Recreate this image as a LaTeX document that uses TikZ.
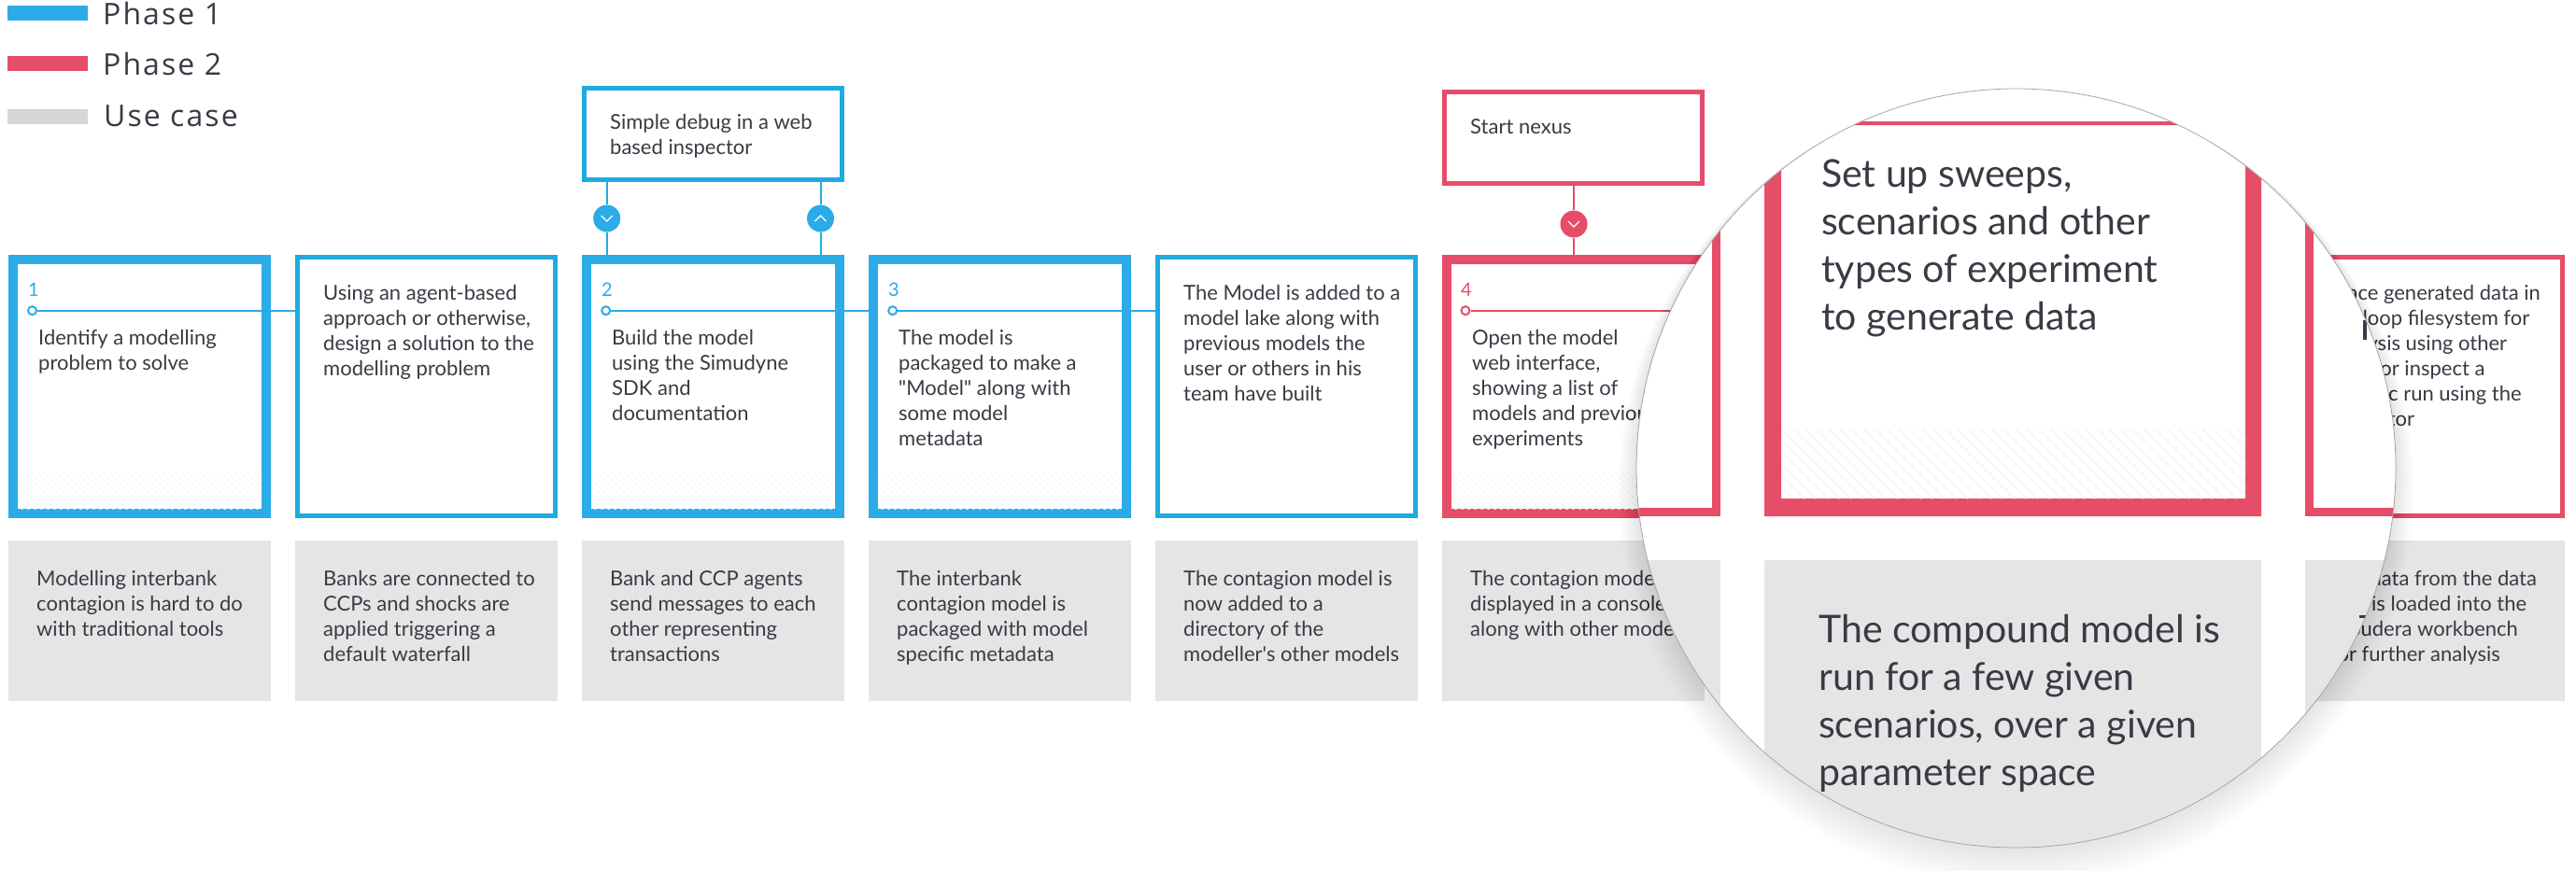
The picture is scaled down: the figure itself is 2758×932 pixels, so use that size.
\documentclass[tikz,border=0pt]{standalone}
\usepackage{fontspec}
\newfontfamily\latoplain{Lato}
\newfontfamily\legendfont[LetterSpace=6.5]{Open Sans}
\definecolor{cyanA}{HTML}{2BACE8}
\definecolor{cyanB}{HTML}{1FABE0}
\definecolor{redA}{HTML}{E64D68}
\definecolor{greyA}{HTML}{E5E5E6}
\definecolor{greyL}{HTML}{D6D6D7}
\definecolor{inkA}{HTML}{3A3A45}
\definecolor{hatchA}{HTML}{F7F7F7}
\newcommand{\lineone}{\rule{0pt}{20pt}}
\newcommand{\linebig}{\rule{0pt}{38pt}}
\newcommand{\hatchband}[4]{%
  \begin{scope}
    \clip (#1,#2) rectangle (#3,#4);
    \foreach \k in {-42,-35,...,266}{\draw[hatchA,line width=1.3pt] (#1+\k,#2) -- ++(42,42);}
  \end{scope}}
\tikzset{
  x=1pt,y=-1pt,
  thickbox/.style={draw=#1,line width=10pt,fill=white,minimum width=271pt,minimum height=272pt,anchor=north west},
  thinbox/.style={draw=#1,line width=5pt,fill=white,minimum width=276pt,minimum height=277pt,anchor=north west},
  topbox/.style={draw=#1,line width=5pt,fill=white,minimum width=276pt,minimum height=98pt,anchor=north west},
  greybox/.style={fill=greyA,minimum width=281pt,minimum height=172pt,anchor=north west,inner sep=0pt},
  txt/.style={font=\latoplain\fontsize{22}{27}\selectfont,text=inkA,align=left,anchor=north west,inner sep=0pt},
  bigtxt/.style={font=\latoplain\fontsize{41}{51}\selectfont,text=inkA,align=left,anchor=north west,inner sep=0pt},
  legtxt/.style={font=\legendfont\fontsize{32}{36}\selectfont,text=inkA,anchor=base west,inner sep=0pt},
  numtxt/.style={font=\latoplain\fontsize{20}{24}\selectfont,text=#1,anchor=base west,inner sep=0pt},
  legbar/.style={fill=#1,minimum width=86pt,minimum height=16pt,anchor=north west,inner sep=0pt},
  hub/.style={circle,draw=#1,line width=2pt,fill=white,minimum size=9pt,inner sep=0pt},
  knob/.style={circle,fill=#1,minimum size=29pt,inner sep=0pt},
  conn/.style={draw=#1,line width=2pt},
  chev/.style={draw=white,line width=1.3pt}
}
\begin{document}
\begin{tikzpicture}
\useasboundingbox (0,0) rectangle (2758,932);
\fill[white] (0,0) rectangle (2758,932);
% legend
\node[legbar=cyanA] (lg1) at (8,6) {};
\node[legbar=redA] (lg2) at (8,60) {};
\node[legbar=greyL] (lg3) at (8,117) {};
\node[legtxt] (lt1) at (110,26) {Phase 1};
\node[legtxt] (lt2) at (110,80) {Phase 2};
\node[legtxt] (lt3) at (111,135) {Use case};
% top boxes
\node[topbox=cyanB] (topa) at (623,92) {};
\node[topbox=redA] (topb) at (1544,96) {};
\node[txt] (topat) at (653,118) {\lineone Simple debug in a web\\based inspector};
\node[txt] (topbt) at (1574,123) {\lineone Start nexus};
% step boxes
\node[thickbox=cyanA] (s1) at (9,273) {};
\node[thinbox=cyanB] (s2) at (316,273) {};
\node[thickbox=cyanA] (s3) at (623,273) {};
\node[thickbox=cyanA] (s4) at (930,273) {};
\node[thinbox=cyanB] (s5) at (1237,273) {};
\node[thickbox=redA] (s6) at (1544,273) {};
\node[thinbox=redA] (s8) at (2465,273) {};
\hatchband{19}{506}{280}{545}
\hatchband{633}{506}{894}{545}
\hatchband{940}{506}{1201}{545}
\hatchband{1554}{506}{1815}{545}
% step numbers
\node[numtxt=cyanA] (n1) at (30,317) {1};
\node[numtxt=cyanA] (n2) at (644,317) {2};
\node[numtxt=cyanA] (n3) at (951,317) {3};
\node[numtxt=redA] (n4) at (1564,317) {4};
% horizontal connectors
\node[hub=cyanA] (h1) at (34.5,332.7) {};
\node[hub=cyanA] (h3) at (648.7,332.7) {};
\node[hub=cyanA] (h4) at (955.7,332.7) {};
\node[hub=redA] (h6) at (1569,332.7) {};
\draw[conn=cyanA] (h1.east) -- (h1.east -| s2.west);
\draw[conn=cyanA] (h3.east) -- (h3.east -| s4.west);
\draw[conn=cyanA] (h4.east) -- (h4.east -| s5.west);
\coordinate (h6end) at (1830,332.7);
\draw[conn=redA] (h6.east) -- (h6end);
% step text
\node[txt] (t1) at (41,349) {\lineone Identify a modelling\\problem to solve};
\node[txt] (t2) at (346,301) {\lineone Using an agent-based\\approach or otherwise,\\design a solution to the\\modelling problem};
\node[txt] (t3) at (655,349) {\lineone Build the model\\using the Simudyne\\SDK and\\documentation};
\node[txt] (t4) at (962,349) {\lineone The model is\\packaged to make a\\"Model" along with\\some model\\metadata};
\node[txt] (t5) at (1267,301) {\lineone The Model is added to a\\model lake along with\\previous models the\\user or others in his\\team have built};
\node[txt] (t6) at (1576,349) {\lineone Open the model\\web interface,\\showing a list of\\models and previous\\experiments};
\node[txt] (t8) at (2495,301) {\lineone Place generated data in\\Hadoop filesystem for\\analysis using other\\tools or inspect a\\specific run using the\\inspector};
% use cases
\node[greybox] (g1) at (9,579) {};
\node[greybox] (g2) at (316,579) {};
\node[greybox] (g3) at (623,579) {};
\node[greybox] (g4) at (930,579) {};
\node[greybox] (g5) at (1237,579) {};
\node[greybox] (g6) at (1544,579) {};
\node[greybox] (g8) at (2465,579) {};
\node[txt] (u1) at (39,607) {\lineone Modelling interbank\\contagion is hard to do\\with traditional tools};
\node[txt] (u2) at (346,607) {\lineone Banks are connected to\\CCPs and shocks are\\applied triggering a\\default waterfall};
\node[txt] (u3) at (653,607) {\lineone Bank and CCP agents\\send messages to each\\other representing\\transactions};
\node[txt] (u4) at (960,607) {\lineone The interbank\\contagion model is\\packaged with model\\specific metadata};
\node[txt] (u5) at (1267,607) {\lineone The contagion model is\\now added to a\\directory of the\\modeller's other models};
\node[txt] (u6) at (1574,607) {\lineone The contagion model is\\displayed in a console\\along with other models};
\node[txt] (u8) at (2495,607) {\lineone The data from the data\\lake is loaded into the\\Cloudera workbench\\for further analysis};
% knobs
\node[knob=cyanA] (k1) at (649.7,234) {};
\node[knob=cyanA] (k2) at (878.5,234) {};
\node[knob=redA] (k3) at (1685,240) {};
\draw[conn=cyanB] (k1.north |- topa.south) -- (k1.north);
\draw[conn=cyanB] (k1.south) -- (k1.south |- s3.north);
\draw[conn=cyanB] (k2.north |- topa.south) -- (k2.north);
\draw[conn=cyanB] (k2.south) -- (k2.south |- s3.north);
\draw[conn=redA] (k3.north |- topb.south) -- (k3.north);
\draw[conn=redA] (k3.south) -- (k3.south |- s6.north);
\draw[chev] ([shift={(-6,-3)}]k1.center) -- ([shift={(0,3)}]k1.center) -- ([shift={(6,-3)}]k1.center);
\draw[chev] ([shift={(-6,3)}]k2.center) -- ([shift={(0,-3)}]k2.center) -- ([shift={(6,3)}]k2.center);
\draw[chev] ([shift={(-6,-3)}]k3.center) -- ([shift={(0,3)}]k3.center) -- ([shift={(6,-3)}]k3.center);
% lens shadow
\foreach \k in {1,2,...,26}{\fill[black,opacity=0.0035] (2158.5,501.5+0.85*\k) circle[radius=406.5+0.75*\k];}
% lens
\node[circle,fill=white,minimum size=813pt,inner sep=0pt] (lens) at (2158.5,501.5) {};
\begin{scope}
  \clip (2158.5,501.5) circle[radius=406.5];
  \fill[redA] (1740,100) rectangle (1842,553);
  \fill[white] (1740,100) rectangle (1833,544);
  \fill[greyA] (1740,600) rectangle (1842,932);
  \fill[redA,even odd rule] (1889,130) rectangle (2421,553) (1907,134) rectangle (2404,534);
  \begin{scope}
    \clip (1907,460) rectangle (2404,534);
    \foreach \k in {-74,-61.5,...,500}{\draw[hatchA,line width=2pt] (1907+\k,460) -- ++(74,74);}
  \end{scope}
  \fill[greyA] (1889,600) rectangle (2421,932);
  \fill[redA] (2468,100) rectangle (2600,553);
  \fill[white] (2477,100) rectangle (2600,544);
  \fill[greyA] (2468,600) rectangle (2600,932);
  \fill[inkA] (2530,343) rectangle (2534,364);
  \fill[inkA] (2526,659) rectangle (2533,661.5);
  \node[bigtxt] (bt1) at (1950,162) {\linebig Set up sweeps,\\scenarios and other\\types of experiment\\to generate data};
  \node[bigtxt] (bt2) at (1947,650) {\linebig The compound model is\\run for a few given\\scenarios, over a given\\parameter space};
\end{scope}
\draw[gray!70,line width=0.8pt] (2158.5,501.5) circle[radius=406.5];
\end{tikzpicture}
\end{document}
